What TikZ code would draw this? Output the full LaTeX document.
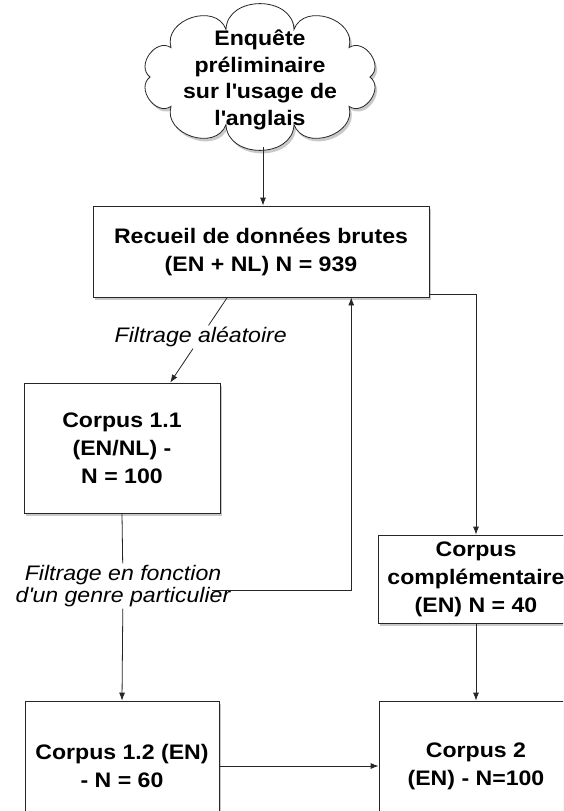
\documentclass[tikz,border=0pt]{standalone}
\usepackage{fontspec}
\setmainfont{Liberation Sans}[FakeStretch=1.1]
\usetikzlibrary{shadows,arrows.meta,calc}
\begin{document}
\begin{tikzpicture}[x=1pt,y=1pt,
  font=\fontsize{21}{27.5}\selectfont,
  shad/.style={drop shadow={shadow xshift=2pt, shadow yshift=-3pt, opacity=0.35, fill=black!60}},
  box/.style={draw=black!85, line width=0.8pt, fill=white, align=center,
    font=\fontsize{21}{28}\selectfont\bfseries, shad},
  lbl/.style={align=center, inner sep=1.5pt, font=\fontsize{21}{22.5}\selectfont\itshape},
  conn/.style={draw=black!85, line width=0.8pt},
  arr/.style={conn, -{Latex[length=8pt,width=6pt]}},
  puff/.style={bend left=88, looseness=1.3}]
\useasboundingbox (0,0) rectangle (563,-811);
\clip (0,0) rectangle (563,-811);
\fill[white] (0,0) rectangle (563,-811);

% cloud
\coordinate (cc) at (260,-77);
\path[draw=black!85, line width=0.8pt, fill=white, shad]
  ($(cc)+(108:110 and 50)$) to[puff] ($(cc)+(72:110 and 50)$)
  to[puff] ($(cc)+(36:110 and 50)$)
  to[puff] ($(cc)+(0:110 and 50)$)
  to[puff] ($(cc)+(-36:110 and 50)$)
  to[puff] ($(cc)+(-72:110 and 50)$)
  to[puff] ($(cc)+(-108:110 and 50)$)
  to[puff] ($(cc)+(-144:110 and 50)$)
  to[puff] ($(cc)+(180:110 and 50)$)
  to[puff] ($(cc)+(144:110 and 50)$)
  to[puff] ($(cc)+(108:110 and 50)$) -- cycle;
\node[align=center, font=\fontsize{21}{26.5}\selectfont\bfseries, inner sep=0pt] (cloudtxt) at (260,-80)
  {Enquête\\préliminaire\\sur l\textquotesingle usage de\\l\textquotesingle anglais};

\node[box, minimum width=336pt, minimum height=91pt, inner sep=0pt] (rec) at (261,-251.5)
  {Recueil de données brutes\\(EN + NL) N = 939};

\node[box, minimum width=196pt, minimum height=130pt, inner sep=0pt] (c11) at (122,-448)
  {Corpus 1.1\\(EN/NL) -\\N = 100};

\node[box, minimum width=196pt, minimum height=88pt, inner sep=0pt] (comp) at (476,-579)
  {Corpus\\complémentaire\\(EN) N = 40};

\node[box, minimum width=194pt, minimum height=130pt, inner sep=0pt] (c12) at (122,-766)
  {Corpus 1.2 (EN)\\- N = 60};

\node[box, minimum width=194pt, minimum height=130pt, inner sep=0pt] (c2) at (476,-766)
  {Corpus 2\\(EN) - N=100};

\coordinate (r1) at ($(rec.south west)!0.4!(rec.south east)$);
\coordinate (k1) at ($(c11.north west)!0.745!(c11.north east)$);
\node[lbl] (l1) at ($(r1)!0.465!(k1)$) {Filtrage aléatoire};

\node[lbl] (l2) at (123,-586) {Filtrage en fonction\\d\textquotesingle un genre particulier};

\coordinate (r2) at ($(rec.south west)!0.768!(rec.south east)$);
\coordinate (r3) at ($(rec.south east)+(0,3)$);
\coordinate (cb) at (263,-147);

\draw[arr] (cb) -- (cb |- rec.north);
\draw[conn] (r1) -- (l1);
\draw[arr] (l1) -- (k1);
\draw[conn] (c11.south) -- (l2);
\draw[arr] (l2) -- (c12.north);
\draw[arr] ([xshift=-20pt,yshift=-4pt]l2.east) -| (r2);
\draw[arr] (r3) -| (comp.north);
\draw[arr] (comp.south) -- (c2.north);
\draw[arr] (c12.east) -- (c2.west);
\end{tikzpicture}
\end{document}
